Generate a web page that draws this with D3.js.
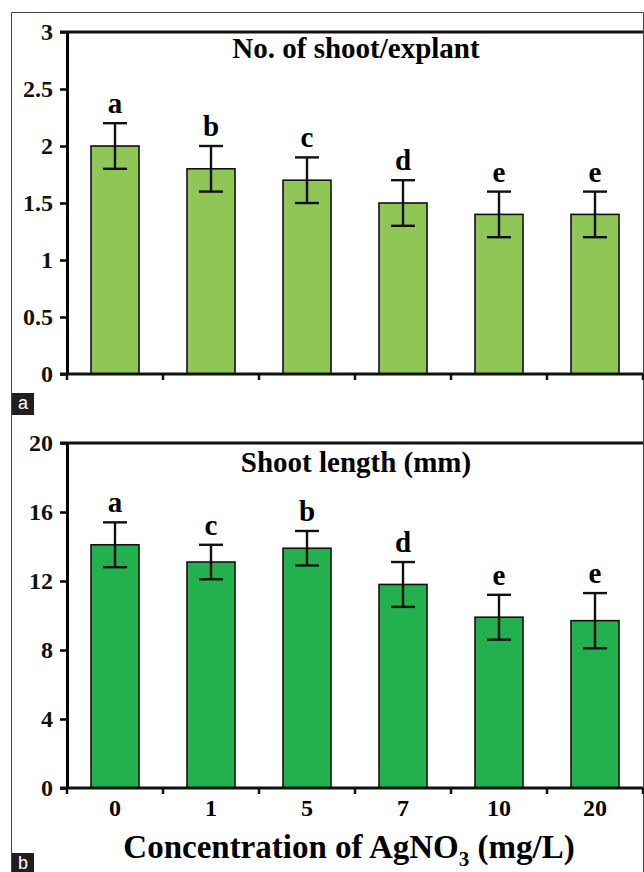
<!DOCTYPE html>
<html>
<head>
<meta charset="utf-8">
<script src="https://cdn.jsdelivr.net/npm/d3@7"></script>
<style>
  html, body { margin: 0; padding: 0; background: #fff; }
  svg { display: block; }
  .serif { font-family: "Liberation Serif", "DejaVu Serif", serif; font-weight: bold; }
  .sans { font-family: "Liberation Sans", "DejaVu Sans", sans-serif; }
</style>
</head>
<body>
<div id="chart"></div>
<script>
// data
const concentrations = ['0', '1', '5', '7', '10', '20'];

const shootCount = [2.0, 1.8, 1.7, 1.5, 1.4, 1.4];
const shootCountErr = [0.2, 0.2, 0.2, 0.2, 0.2, 0.2];
const shootCountLetters = ['a', 'b', 'c', 'd', 'e', 'e'];
const shootCountTicks = [0, 0.5, 1, 1.5, 2, 2.5, 3];

const shootLength = [14.1, 13.1, 13.9, 11.8, 9.9, 9.7];
const shootLengthErr = [1.3, 1.0, 1.0, 1.3, 1.3, 1.6];
const shootLengthLetters = ['a', 'c', 'b', 'd', 'e', 'e'];
const shootLengthTicks = [0, 4, 8, 12, 16, 20];

const width = 644, height = 872;

const svg = d3.select('#chart').append('svg')
  .attr('width', width)
  .attr('height', height);

// outer frame
svg.append('path')
  .attr('d', 'M11.5,872 V12.5 H643.5 V872')
  .attr('fill', 'none')
  .attr('stroke', '#444')
  .attr('stroke-width', 1);

const x = d3.scaleBand()
  .domain(concentrations)
  .range([67, 643])
  .paddingInner(0.5)
  .paddingOuter(0.25);

function drawPanel(cfg) {
  const y = d3.scaleLinear().domain(cfg.domain).range([cfg.bottom, cfg.top]);
  const g = svg.append('g');

  const rows = concentrations.map((c, i) => ({
    c, v: cfg.values[i], e: cfg.errors[i], l: cfg.letters[i]
  }));

  // bars
  g.selectAll('rect.bar').data(rows).enter().append('rect')
    .attr('class', 'bar')
    .attr('x', d => x(d.c))
    .attr('y', d => y(d.v))
    .attr('width', x.bandwidth())
    .attr('height', d => y(0) - y(d.v))
    .attr('fill', cfg.color)
    .attr('stroke', '#111')
    .attr('stroke-width', 1.6);

  // error bars
  const eb = g.selectAll('g.err').data(rows).enter().append('g')
    .attr('class', 'err')
    .attr('stroke', '#111')
    .attr('stroke-width', 2.4);
  const cx = d => x(d.c) + x.bandwidth() / 2;
  eb.append('line')
    .attr('x1', cx).attr('x2', cx)
    .attr('y1', d => y(d.v - d.e)).attr('y2', d => y(d.v + d.e));
  eb.append('line')
    .attr('x1', d => cx(d) - 12).attr('x2', d => cx(d) + 12)
    .attr('y1', d => y(d.v + d.e)).attr('y2', d => y(d.v + d.e));
  eb.append('line')
    .attr('x1', d => cx(d) - 12).attr('x2', d => cx(d) + 12)
    .attr('y1', d => y(d.v - d.e)).attr('y2', d => y(d.v - d.e));

  // significance letters
  g.selectAll('text.letter').data(rows).enter().append('text')
    .attr('class', 'letter serif')
    .attr('x', cx)
    .attr('y', d => y(d.v + d.e) - 10)
    .attr('text-anchor', 'middle')
    .style('font-size', '29px')
    .text(d => d.l);

  // y axis
  const yAxis = g.append('g')
    .attr('transform', 'translate(67,0)')
    .call(d3.axisLeft(y).tickValues(cfg.ticks).tickFormat(d3.format('~g'))
      .tickSize(7).tickSizeOuter(0).tickPadding(7));
  yAxis.select('.domain').attr('stroke-width', 3);
  yAxis.selectAll('.tick line').attr('stroke-width', 2.5);
  yAxis.selectAll('.tick text')
    .attr('class', 'serif')
    .style('font-size', '24px')
    .attr('fill', '#111');
  yAxis.attr('font-family', null).attr('font-size', null);

  // x axis, ticks on category boundaries
  const bounds = concentrations.map((c, i) => 67 + (i + 1) * x.step());
  g.append('line')
    .attr('x1', 60).attr('x2', 643)
    .attr('y1', cfg.bottom).attr('y2', cfg.bottom)
    .attr('stroke', '#111').attr('stroke-width', 3);
  g.selectAll('line.xt').data([67].concat(bounds)).enter().append('line')
    .attr('class', 'xt')
    .attr('x1', d => d).attr('x2', d => d)
    .attr('y1', cfg.bottom).attr('y2', cfg.bottom + 6)
    .attr('stroke', '#111').attr('stroke-width', 2.5);

  // top border
  g.append('line')
    .attr('x1', 60).attr('x2', 643)
    .attr('y1', cfg.top).attr('y2', cfg.top)
    .attr('stroke', '#111').attr('stroke-width', 3);

  // title
  g.append('text')
    .attr('class', 'serif')
    .attr('x', 356).attr('y', cfg.top + cfg.titleDy)
    .attr('text-anchor', 'middle')
    .style('font-size', '29px')
    .text(cfg.title);

  return { g, y };
}

drawPanel({
  domain: [0, 3], top: 32, bottom: 374, titleDy: 26,
  values: shootCount, errors: shootCountErr, letters: shootCountLetters,
  ticks: shootCountTicks, color: '#90c655', title: 'No. of shoot/explant'
});

const pb = drawPanel({
  domain: [0, 20], top: 443, bottom: 788, titleDy: 29,
  values: shootLength, errors: shootLengthErr, letters: shootLengthLetters,
  ticks: shootLengthTicks, color: '#22b14e', title: 'Shoot length (mm)'
});

// x tick labels
pb.g.selectAll('text.xl').data(concentrations).enter().append('text')
  .attr('class', 'xl serif')
  .attr('x', d => x(d) + x.bandwidth() / 2)
  .attr('y', 816)
  .attr('text-anchor', 'middle')
  .style('font-size', '24px')
  .text(d => d);

// x axis title
const xt = svg.append('text')
  .attr('class', 'serif')
  .attr('x', 349).attr('y', 858)
  .attr('text-anchor', 'middle')
  .style('font-size', '33px');
xt.append('tspan').text('Concentration of AgNO');
xt.append('tspan').style('font-size', '21px').attr('dy', 8).text('3');
xt.append('tspan').attr('dy', -8).text(' (mg/L)');

// panel labels
[['a', 393, 22, 16], ['b', 853, 19, 16]].forEach(([t, yy, h, base]) => {
  svg.append('rect')
    .attr('x', 12).attr('y', yy).attr('width', 22).attr('height', h)
    .attr('fill', '#231f20');
  svg.append('text')
    .attr('class', 'sans')
    .attr('x', 23).attr('y', yy + base)
    .attr('text-anchor', 'middle')
    .style('font-size', '18px')
    .attr('fill', '#fff')
    .text(t);
});
</script>
</body>
</html>
